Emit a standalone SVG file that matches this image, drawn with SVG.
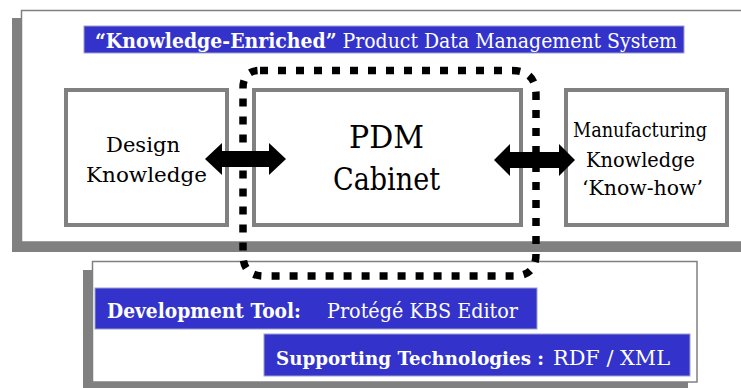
<svg xmlns="http://www.w3.org/2000/svg" width="741" height="388" viewBox="0 0 741 388">
<style>
.shadow{fill:#808080}
.panel{fill:#ffffff;stroke:#808080;stroke-width:1.5}
.box{fill:#ffffff;stroke:#808080;stroke-width:4}
.bar{fill:#3333cc;stroke:#a0a0c8;stroke-width:1}
text{font-family:'DejaVu Serif','Liberation Serif',serif}
.t{fill:#000}
.w{fill:#fff}
.b{font-weight:bold}
.arrow{fill:#000}
.dots{fill:none;stroke:#000;stroke-width:7.5;stroke-dasharray:8 10}
</style>
<rect width="741" height="388" fill="#fff"/>
<g id="system-panel">
<rect class="shadow" x="12" y="18" width="740" height="234"/>
<rect class="panel" x="21.5" y="10.5" width="730" height="231.5"/>
<rect class="bar" x="84" y="26" width="600" height="27"/>
<text class="w" x="95" y="48" font-size="21" textLength="582" lengthAdjust="spacingAndGlyphs"><tspan class="b">“Knowledge-Enriched”</tspan> Product Data Management System</text>
</g>
<g id="design">
<rect class="box" x="66" y="90" width="161" height="135"/>
<text class="t" x="106" y="152" font-size="21" textLength="74" lengthAdjust="spacingAndGlyphs">Design</text>
<text class="t" x="86" y="182" font-size="21" textLength="121" lengthAdjust="spacingAndGlyphs">Knowledge</text>
</g>
<g id="pdm">
<rect class="box" x="254" y="90" width="267" height="135"/>
<text class="t" x="349" y="148" font-size="31" textLength="75" lengthAdjust="spacingAndGlyphs">PDM</text>
<text class="t" x="333" y="190" font-size="31" textLength="107" lengthAdjust="spacingAndGlyphs">Cabinet</text>
</g>
<g id="manufacturing">
<rect class="box" x="566" y="90" width="161" height="135"/>
<text class="t" x="573" y="137" font-size="21" textLength="134" lengthAdjust="spacingAndGlyphs">Manufacturing</text>
<text class="t" x="586" y="167" font-size="21" textLength="109" lengthAdjust="spacingAndGlyphs">Knowledge</text>
<text class="t" x="582" y="195" font-size="21" textLength="121" lengthAdjust="spacingAndGlyphs">‘Know-how’</text>
</g>
<g id="tools-panel">
<rect class="shadow" x="83" y="270" width="605" height="120"/>
<rect class="panel" x="92.5" y="261.5" width="604.5" height="120.5"/>
<rect class="bar" x="95" y="288" width="442" height="41"/>
<text class="w b" x="107" y="318" font-size="20" textLength="194" lengthAdjust="spacingAndGlyphs">Development Tool:</text>
<text class="w" x="327" y="318" font-size="21" textLength="191" lengthAdjust="spacingAndGlyphs">Protégé KBS Editor</text>
<rect class="bar" x="264" y="334" width="426" height="42"/>
<text class="w b" x="276" y="365" font-size="19" textLength="268" lengthAdjust="spacingAndGlyphs">Supporting Technologies :</text>
<text class="w" x="553" y="365" font-size="20" textLength="117" lengthAdjust="spacingAndGlyphs">RDF / XML</text>
</g>
<g id="connectors">
<path class="dots" d="M260,70.5 H512 Q536,70.5 536,95 V254 Q536,276 514,276 H264 Q243,276 243,255 V88 Q243,70.5 260,70.5 Z"/>
<path class="arrow" d="M205,159 L222,143 L222,151 L269,151 L269,143 L286,159 L269,175 L269,167 L222,167 L222,175 Z"/>
<path class="arrow" d="M494,160 L510,144 L510,152 L559,152 L559,144 L575,160 L559,176 L559,168 L510,168 L510,176 Z"/>
</g>
</svg>
